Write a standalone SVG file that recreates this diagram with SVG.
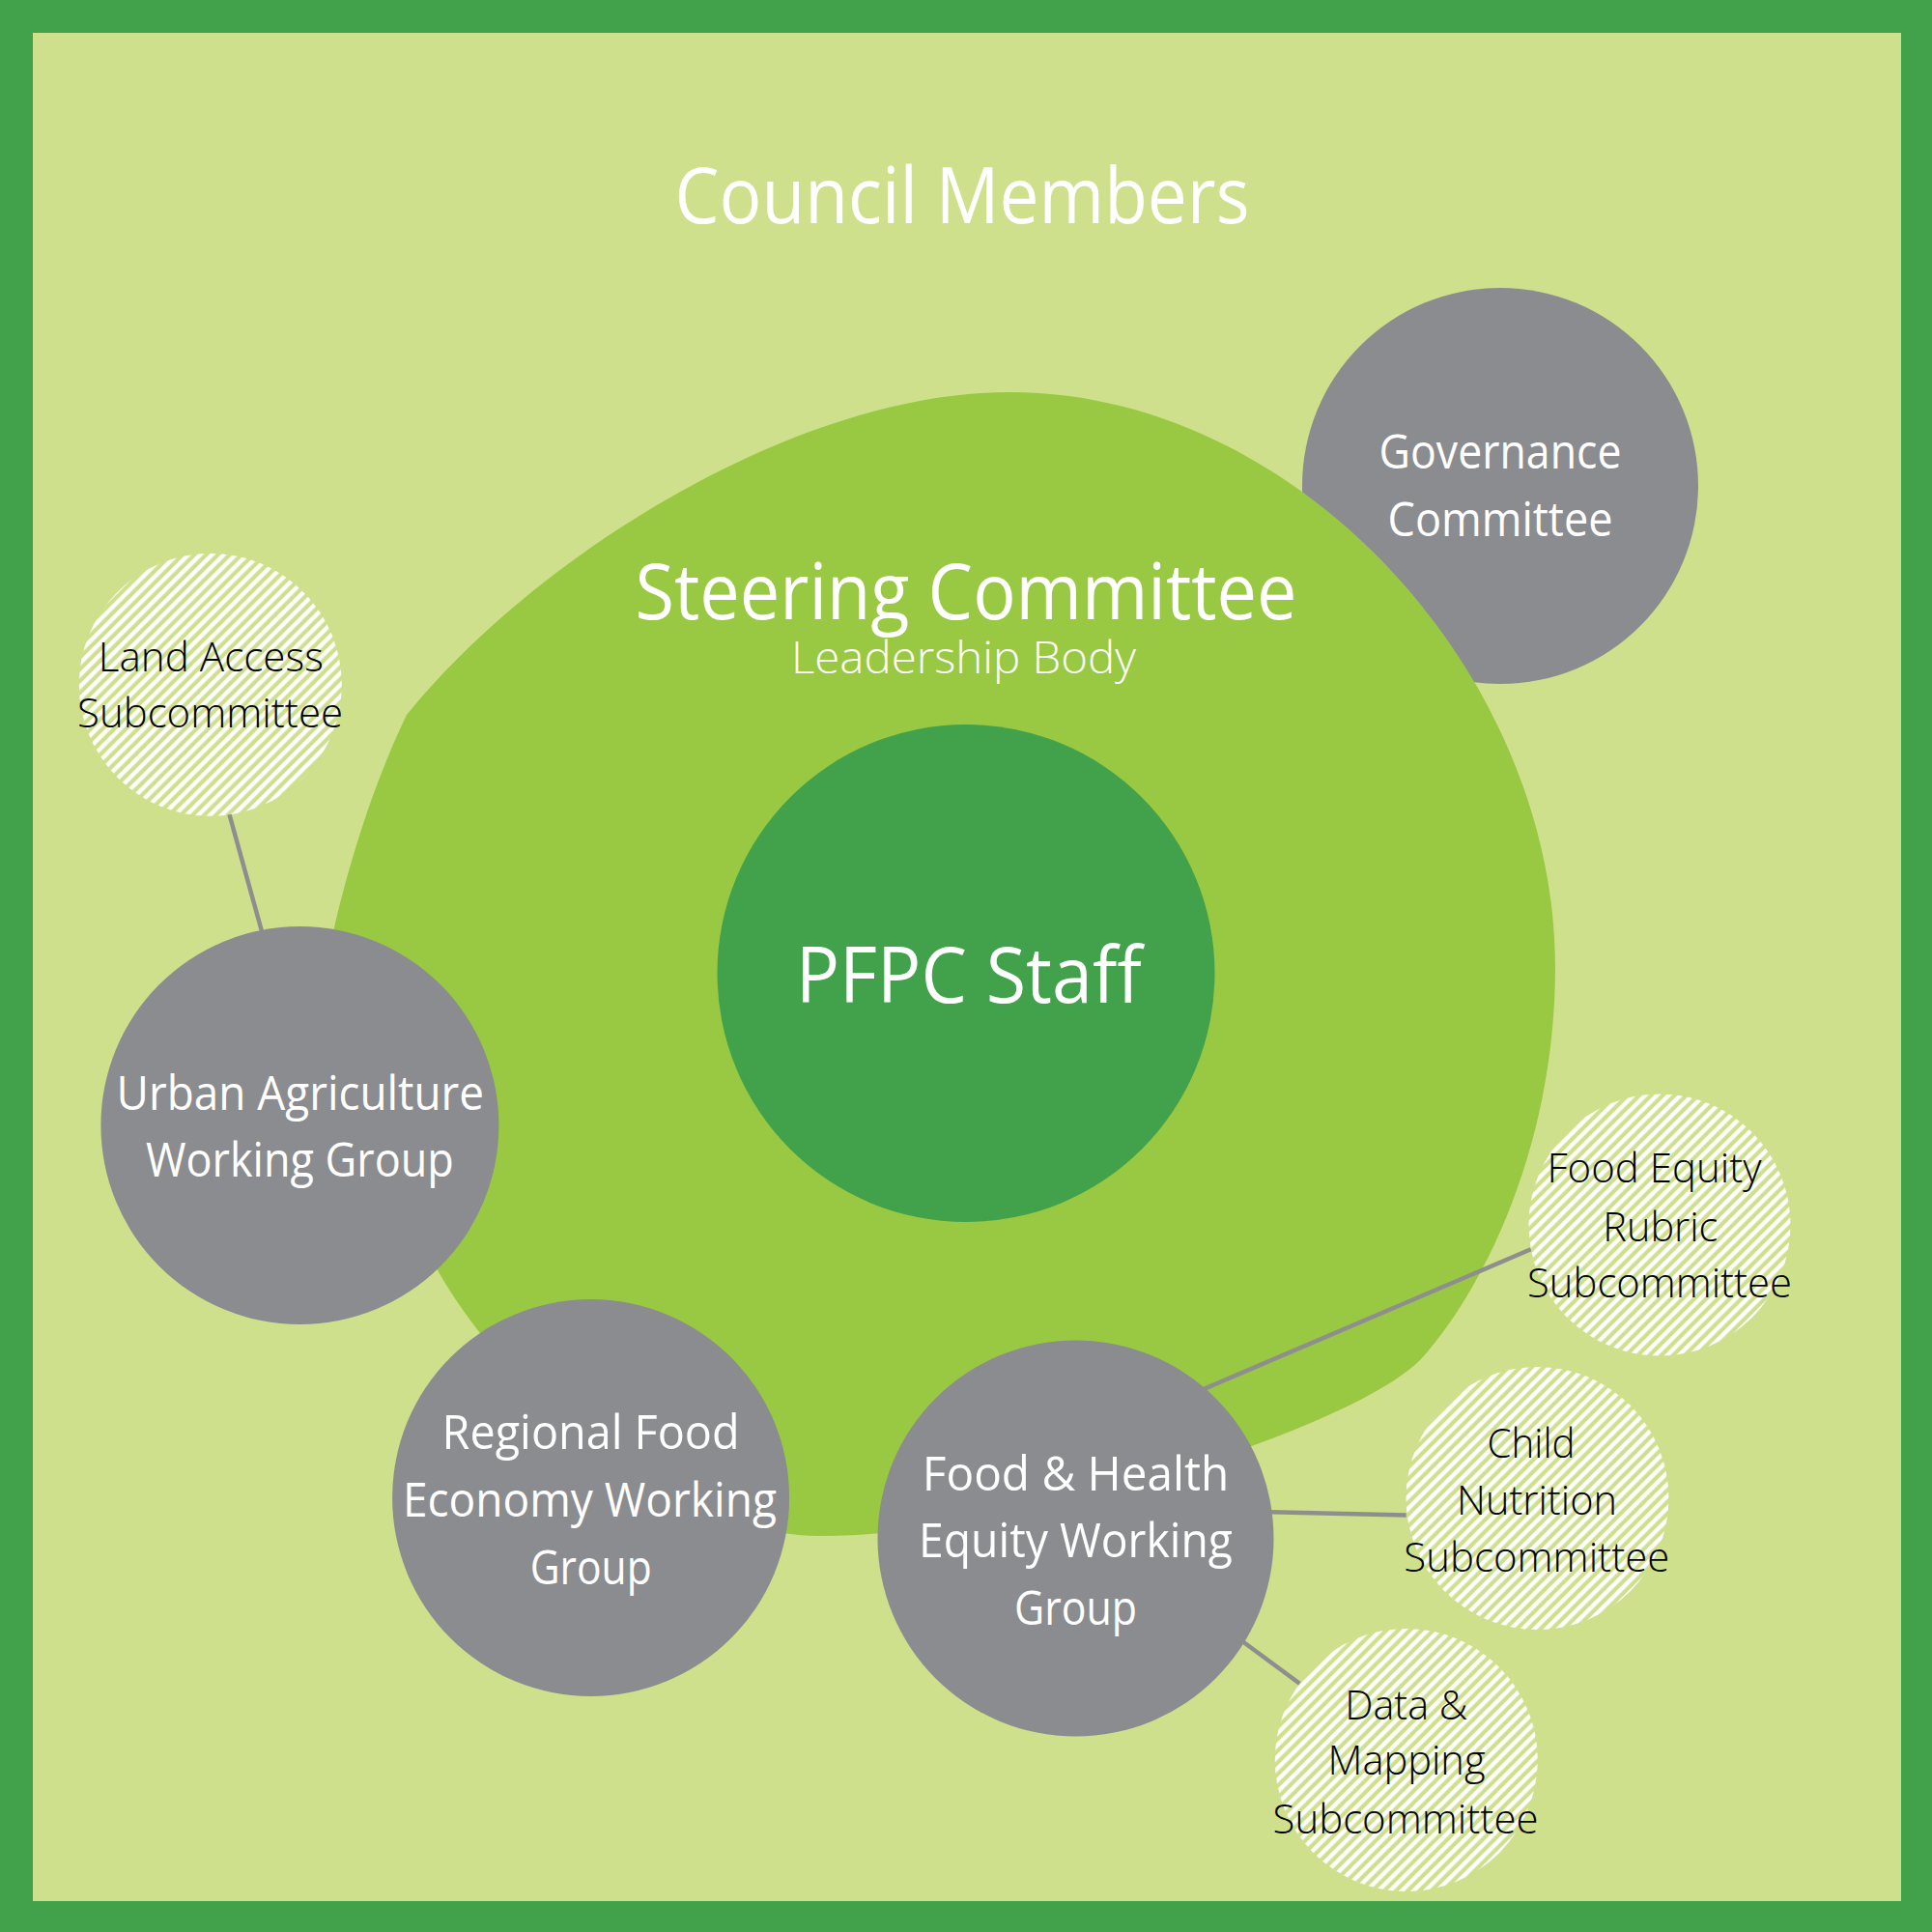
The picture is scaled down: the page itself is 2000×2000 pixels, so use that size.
<svg xmlns="http://www.w3.org/2000/svg" width="2000" height="2000" viewBox="0 0 2000 2000">
<defs>
<pattern id="stripes" patternUnits="userSpaceOnUse" width="8.6" height="8.6" patternTransform="rotate(45)">
<rect width="8.6" height="8.6" fill="#CEE08B"/>
<rect width="4.4" height="8.6" fill="#FFFFFF"/>
</pattern>
</defs>
<style>
.t{font-family:"Open Sans","Noto Sans","Liberation Sans",sans-serif;text-anchor:middle}
.w{fill:#FFFFFF}
.big{font-size:81px;font-weight:400}
.lbl{font-size:50px;font-weight:400}
.sub{font-size:42px;font-weight:300;fill:#000000}
.gray{fill:#8B8C8F}
.hatch{fill:url(#stripes)}
.conn line{stroke:#8E8E8E;stroke-width:4.5;stroke-linecap:butt}
</style>
<rect x="0" y="0" width="2000" height="2000" fill="#42A14B"/>
<rect x="34" y="34" width="1934" height="1934" fill="#CEE08B"/>
<g id="council-members">
<text class="t w big" x="996" y="231" textLength="595" lengthAdjust="spacingAndGlyphs">Council Members</text>
</g>
<g id="governance-committee">
<circle class="gray" cx="1553" cy="503" r="205"/>
<text class="t w lbl" x="1553" y="485" textLength="251" lengthAdjust="spacingAndGlyphs">Governance</text>
<text class="t w lbl" x="1553" y="555" textLength="233" lengthAdjust="spacingAndGlyphs">Committee</text>
</g>
<g id="steering-committee">
<path fill="#99C943" d="M 421,740 C 550,580 820,406 1046,406 C 1345,406 1610,700 1610,1001 C 1610,1180 1540,1330 1471,1407 C 1400,1480 1050,1590 848,1590 C 700,1590 530,1450 453,1315 C 410,1240 340,1080 346,960 C 366,875 392,800 421,740 Z"/>
<text class="t w big" x="1000" y="641" textLength="685" lengthAdjust="spacingAndGlyphs">Steering Committee</text>
<text class="t w" x="997.5" y="697" font-size="46" font-weight="300" textLength="357" lengthAdjust="spacingAndGlyphs">Leadership Body</text>
</g>
<g id="pfpc-staff">
<circle cx="1000" cy="1007.5" r="257.5" fill="#42A14B"/>
<text class="t w big" x="1002.7" y="1038" textLength="358" lengthAdjust="spacingAndGlyphs">PFPC Staff</text>
</g>
<g id="connectors" class="conn">
<line x1="233.8" y1="830" x2="273.2" y2="972"/>
<line x1="1240" y1="1440.6" x2="1584.7" y2="1293.3"/>
<line x1="1305" y1="1565" x2="1455.7" y2="1568.4"/>
<line x1="1282" y1="1696" x2="1346" y2="1743.3"/>
</g>
<g id="urban-agriculture">
<circle class="gray" cx="310.4" cy="1165" r="206"/>
<text class="t w lbl" x="310.8" y="1149" textLength="380.5" lengthAdjust="spacingAndGlyphs">Urban Agriculture</text>
<text class="t w lbl" x="310.4" y="1218" textLength="319" lengthAdjust="spacingAndGlyphs">Working Group</text>
</g>
<g id="regional-food">
<circle class="gray" cx="611.6" cy="1550.5" r="205.5"/>
<text class="t w lbl" x="611.6" y="1499.5" textLength="308" lengthAdjust="spacingAndGlyphs">Regional Food</text>
<text class="t w lbl" x="610.4" y="1570" textLength="387" lengthAdjust="spacingAndGlyphs">Economy Working</text>
<text class="t w lbl" x="611.7" y="1640" textLength="126" lengthAdjust="spacingAndGlyphs">Group</text>
</g>
<g id="food-health">
<circle class="gray" cx="1113.5" cy="1592.5" r="205"/>
<text class="t w lbl" x="1113.6" y="1542.7" textLength="317.6" lengthAdjust="spacingAndGlyphs">Food &amp; Health</text>
<text class="t w lbl" x="1113.5" y="1611.7" textLength="325" lengthAdjust="spacingAndGlyphs">Equity Working</text>
<text class="t w lbl" x="1113.5" y="1682" textLength="127" lengthAdjust="spacingAndGlyphs">Group</text>
</g>
<g id="land-access">
<circle class="hatch" cx="217.8" cy="708.8" r="136"/>
<text class="t sub" x="218.3" y="695" textLength="233" lengthAdjust="spacingAndGlyphs">Land Access</text>
<text class="t sub" x="217.5" y="753" textLength="275" lengthAdjust="spacingAndGlyphs">Subcommittee</text>
</g>
<g id="food-equity-rubric">
<circle class="hatch" cx="1718" cy="1268" r="135.5"/>
<text class="t sub" x="1712.5" y="1224" textLength="222" lengthAdjust="spacingAndGlyphs">Food Equity</text>
<text class="t sub" x="1718.8" y="1285" textLength="119" lengthAdjust="spacingAndGlyphs">Rubric</text>
<text class="t sub" x="1718" y="1343" textLength="274" lengthAdjust="spacingAndGlyphs">Subcommittee</text>
</g>
<g id="child-nutrition">
<circle class="hatch" cx="1591.5" cy="1551" r="136"/>
<text class="t sub" x="1585" y="1509" textLength="91" lengthAdjust="spacingAndGlyphs">Child</text>
<text class="t sub" x="1591" y="1567.6" textLength="166" lengthAdjust="spacingAndGlyphs">Nutrition</text>
<text class="t sub" x="1590.8" y="1627" textLength="275" lengthAdjust="spacingAndGlyphs">Subcommittee</text>
</g>
<g id="data-mapping">
<circle class="hatch" cx="1455.8" cy="1822" r="136"/>
<text class="t sub" x="1455.8" y="1779.6" textLength="127" lengthAdjust="spacingAndGlyphs">Data &amp;</text>
<text class="t sub" x="1456" y="1837" textLength="163" lengthAdjust="spacingAndGlyphs">Mapping</text>
<text class="t sub" x="1455" y="1897.5" textLength="275" lengthAdjust="spacingAndGlyphs">Subcommittee</text>
</g>
</svg>
